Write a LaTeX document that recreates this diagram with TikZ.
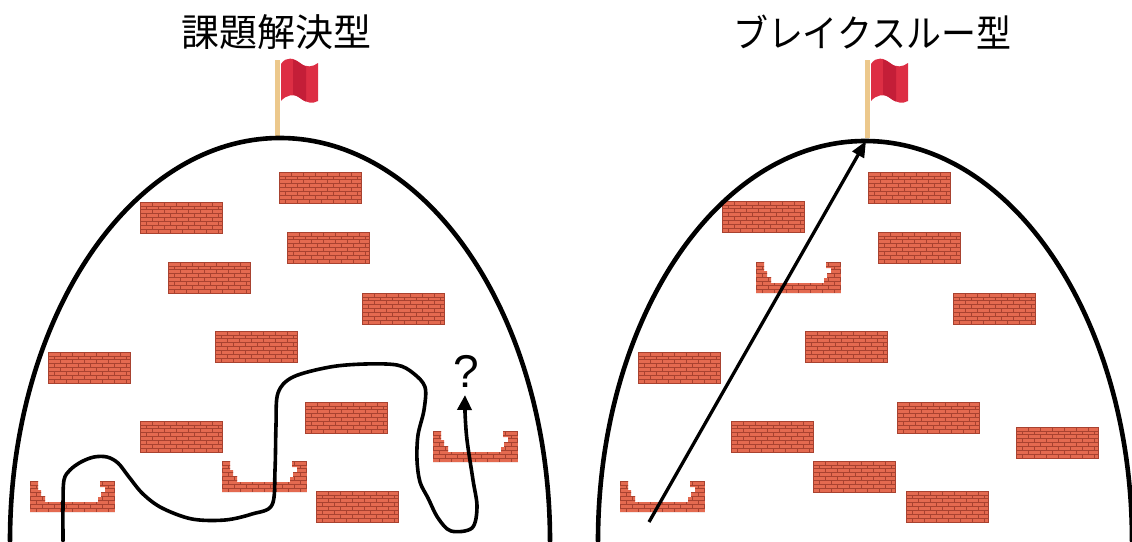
\documentclass[tikz,border=0pt]{standalone}
\usepackage{fontspec}
\newfontfamily\jpfont{Noto Sans CJK JP}
\newfontfamily\qfont{Liberation Sans}
\usetikzlibrary{arrows.meta}

\definecolor{brickred}{RGB}{228,106,80}
\definecolor{mortar}{RGB}{168,66,48}
\definecolor{flagred}{RGB}{221,46,68}
\definecolor{flagdark}{RGB}{196,30,56}
\definecolor{pole}{RGB}{236,200,140}

% brick texture inside the current clip, box of width #1 and height 31
\newcommand\bricktexture[1]{%
  \fill[brickred] (0,0) rectangle (#1,31);
  \foreach \r in {0,...,8} {\draw[mortarline] (0,{\r*3.875}) -- (#1,{\r*3.875});}
  \foreach \r in {0,2,4,6} {\foreach \c in {0,...,7}
    {\draw[mortarline] ({\c*12},{\r*3.875}) -- ++(0,3.875);}}
  \foreach \r in {1,3,5,7} {\foreach \c in {0,...,7}
    {\draw[mortarline] ({\c*12+6},{\r*3.875}) -- ++(0,3.875);}}
}

\tikzset{
  mortarline/.style={draw=mortar, line width=0.6pt},
  hill/.style={line width=4.6pt, line cap=round},
  wiggle/.style={line width=3.6pt, line join=round, line cap=round},
  brick/.pic={
    \begin{scope}
      \clip (0,0) rectangle (82,31);
      \bricktexture{82}
    \end{scope}
    \draw[mortar, line width=0.8pt] (0,0) rectangle (82,31);
  },
  brokenbrick/.pic={
    \begin{scope}
      \clip (0,0) -- (8,0) -- (8,9) -- (11,9) -- (11,15) -- (15,15) -- (15,21)
        -- (68,21) -- (68,16) -- (71,16) -- (71,11) -- (75,11) -- (75,6) -- (70,6)
        -- (70,0) -- (85,0) -- (85,31) -- (0,31) -- cycle;
      \bricktexture{85}
    \end{scope}
  },
  flag/.pic={
    \fill[pole] (-2.5,2) rectangle (2.5,80);
    \fill[flagred] (4,6) .. controls (9,-2) and (17,0) .. (23,5)
      .. controls (29,10) and (36,9) .. (41,5) -- (41,43)
      .. controls (36,46) and (29,45) .. (23,40)
      .. controls (17,35) and (9,37) .. (4,43) -- cycle;
    \fill[flagdark] (16,1.5) .. controls (19,2.5) and (21,3.5) .. (23,5)
      .. controls (25,6.5) and (27,7.8) .. (29,8.5) -- (29,43.5)
      .. controls (27,42.8) and (25,41.5) .. (23,40)
      .. controls (21,38.5) and (19,37.5) .. (16,36.5) -- cycle;
  }
}

\begin{document}
\begin{tikzpicture}[x=1pt, y=-1pt]
  \useasboundingbox (0,0) rectangle (1132,541);

  % titles
  \node[font=\jpfont\fontsize{38}{40}\selectfont, inner sep=0] (t1) at (276,32) {課題解決型};
  \node[font=\jpfont\fontsize{38}{40}\selectfont, inner sep=0, xscale=0.92] (t2) at (872,32) {ブレイクスルー型};

  % flags on the summits
  \pic at (277,58) {flag};
  \pic at (867,58) {flag};

  % bricks, left hill
  \foreach \x/\y in {279/172, 140/202, 287/232, 168/262, 362/293, 215/331,
                     48/352, 305/402, 140/421, 316/491}
    {\pic at (\x,\y) {brick};}
  \foreach \x/\y in {30/481, 222/461, 433/431}
    {\pic at (\x,\y) {brokenbrick};}

  % bricks, right hill
  \foreach \x/\y in {868/172, 722/201, 878/232, 953/293, 805/331, 638/352,
                     897/402, 1016/427, 731/421, 813/461, 906/491}
    {\pic at (\x,\y) {brick};}
  \foreach \x/\y in {756/262, 620/481}
    {\pic at (\x,\y) {brokenbrick};}

  % the two hills
  \draw[hill] (10,541) arc[start angle=180, end angle=360, x radius=270, y radius=403];
  \draw[hill] (598,541) arc[start angle=180, end angle=360, x radius=267, y radius=400];

  % winding route on the left
  \coordinate (start) at (63,541);
  \coordinate (stuck) at (465,395);
  \draw[wiggle, -{Triangle[length=15pt, width=14pt]}] plot[smooth, tension=0.55] coordinates {
    (63,541) (63,505) (64,480) (70,470) (81,462) (94,457) (107,457) (118,463)
    (129,477) (143,494) (162,508) (192,519) (225,520) (252,514) (272,505)
    (275,470) (276,425) (278,393) (293,377) (330,367) (365,364) (397,365)
    (413,373) (425,387) (424,410) (418,435) (417,460) (420,482) (428,498)
    (438,518) (451,531) (472,528) (477,507) (473,480) (467,440) (465,412) (stuck)};
  \node[font=\qfont\fontsize{46}{46}\selectfont, inner sep=0] (q) at (466,371) {?};

  % straight route on the right
  \coordinate (base) at (649,522);
  \coordinate (summit) at (866,141);
  \draw[line width=3.3pt, -{Triangle[length=16pt, width=13pt]}] (base) -- (summit);
\end{tikzpicture}
\end{document}
